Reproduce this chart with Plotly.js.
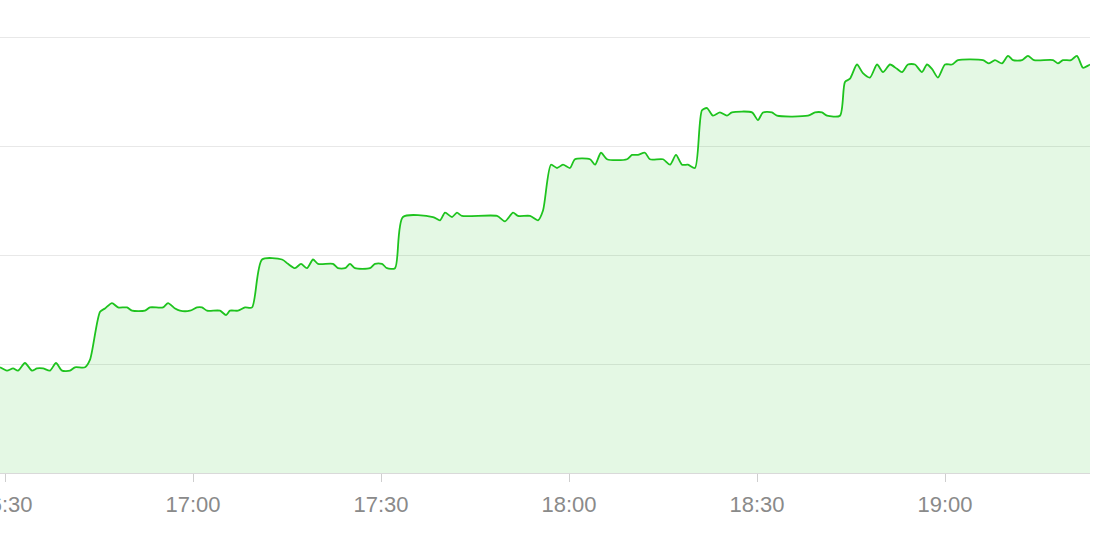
<!DOCTYPE html>
<html>
<head>
<meta charset="utf-8">
<script src="https://cdn.plot.ly/plotly-3.0.1.min.js"></script>
<style>
  html, body { margin: 0; padding: 0; background: #ffffff; }
  #chart { width: 1108px; height: 544px; }
</style>
</head>
<body>
<div id="chart"></div>
<script>
const day = '2024-01-01 ';
const times = [
  '16:29:12','16:30:19','16:31:17','16:32:04','16:33:11','16:34:18','16:35:06','16:36:04','16:37:11','16:38:08',
  '16:39:06','16:40:22','16:41:10','16:42:46','16:43:34','16:45:10','16:45:57','16:47:04','16:48:02','16:49:28',
  '16:50:16','16:52:20','16:53:08','16:55:13','16:56:01','16:57:08','16:57:55','16:59:31','17:00:38','17:01:26',
  '17:02:14','17:04:18','17:05:16','17:05:54','17:07:11','17:08:18','17:09:25','17:11:01','17:14:12','17:15:09',
  '17:16:16','17:17:14','17:18:11','17:19:09','17:19:57','17:22:20','17:23:08','17:24:15','17:25:03','17:25:51',
  '17:28:14','17:29:02','17:30:09','17:30:57','17:32:14','17:33:30','17:38:18','17:39:25','17:40:13','17:41:20',
  '17:42:07','17:42:55','17:48:30','17:49:47','17:51:04','17:51:51','17:53:46','17:55:03','17:55:51','17:57:07',
  '17:58:05','17:59:02','18:00:09','18:00:57','18:03:21','18:04:09','18:05:06','18:06:04','18:09:15','18:10:03',
  '18:11:00','18:12:07','18:12:55','18:15:00','18:16:07','18:17:04','18:18:02','18:18:59','18:20:06','18:21:13',
  '18:22:01','18:22:58','18:24:05','18:25:12','18:26:00','18:29:12','18:30:09','18:30:57','18:32:23','18:33:11',
  '18:38:08','18:39:15','18:40:22','18:41:10','18:43:14','18:44:02','18:44:50','18:45:57','18:46:54','18:48:01',
  '18:49:09','18:50:06','18:51:13','18:52:20','18:53:08','18:54:05','18:55:12','18:56:19','18:57:07','18:57:55',
  '18:58:52','19:00:00','19:01:07','19:02:04','19:06:03','19:07:01','19:07:58','19:09:05','19:10:03','19:10:51',
  '19:12:17','19:13:14','19:14:12','19:17:14','19:18:01','19:18:49','19:20:06','19:21:03','19:22:01','19:22:49',
  '19:23:08'
];
const values = [
  97, 94, 96, 94, 101, 94, 96, 96, 94, 101,
  94, 94, 97, 97, 104, 148, 151, 156, 152, 152,
  149, 149, 152, 152, 156, 151, 149, 149, 152, 152,
  149, 149, 145, 149, 149, 152, 152, 196, 196, 192,
  188, 192, 188, 196, 192, 192, 188, 188, 192, 188,
  188, 192, 192, 188, 188, 235, 235, 232, 239, 235,
  239, 236, 236, 231, 239, 236, 236, 232, 241, 283,
  280, 283, 280, 288, 288, 283, 294, 288, 288, 292,
  292, 294, 288, 288, 283, 292, 283, 283, 280, 333,
  335, 328, 331, 328, 331, 331, 324, 331, 331, 328,
  328, 331, 331, 328, 328, 359, 362, 375, 367, 363,
  375, 368, 375, 371, 368, 375, 375, 368, 375, 371,
  363, 375, 375, 379, 379, 376, 379, 376, 383, 379,
  379, 383, 379, 379, 376, 379, 379, 383, 372, 374,
  375
];
const xRange = ['16:29:12', '19:23:08'];
const yRange = [0, 403];
const tickTimes = ['16:30:00', '17:00:00', '17:30:00', '18:00:00', '18:30:00', '19:00:00'];
const tickLabels = ['16:30', '17:00', '17:30', '18:00', '18:30', '19:00'];

const trace = {
  x: times.map(t => day + t),
  y: values,
  type: 'scatter',
  mode: 'lines',
  line: { color: '#1ec31e', width: 1.8, shape: 'spline', smoothing: 0.7 },
  fill: 'tozeroy',
  fillcolor: 'rgba(30,195,30,0.12)',
  hoverinfo: 'skip'
};

const layout = {
  width: 1108,
  height: 544,
  margin: { l: 0, r: 18, t: 34, b: 71 },
  paper_bgcolor: '#ffffff',
  plot_bgcolor: '#ffffff',
  showlegend: false,
  font: { family: 'Liberation Sans, Arial, sans-serif', color: '#8a8a8a', size: 22 },
  xaxis: {
    type: 'date',
    range: xRange.map(t => day + t),
    tickmode: 'array',
    tickvals: tickTimes.map(t => day + t),
    ticktext: tickLabels,
    showgrid: false,
    showline: true,
    linecolor: '#d9d9d9',
    linewidth: 1,
    ticks: 'outside',
    ticklen: 8,
    tickcolor: '#cfcfcf',
    tickwidth: 1,
    ticklabelstandoff: 4,
    ticklabeloverflow: 'allow',
    tickfont: { size: 22, color: '#8a8a8a' },
    zeroline: false,
    automargin: false,
    fixedrange: true
  },
  yaxis: {
    range: yRange,
    dtick: 100,
    tick0: 0,
    showgrid: true,
    gridcolor: '#e8e8e8',
    gridwidth: 1,
    showticklabels: false,
    zeroline: false,
    showline: false,
    automargin: false,
    fixedrange: true
  }
};

Plotly.newPlot('chart', [trace], layout, { displayModeBar: false, staticPlot: true });
</script>
</body>
</html>
